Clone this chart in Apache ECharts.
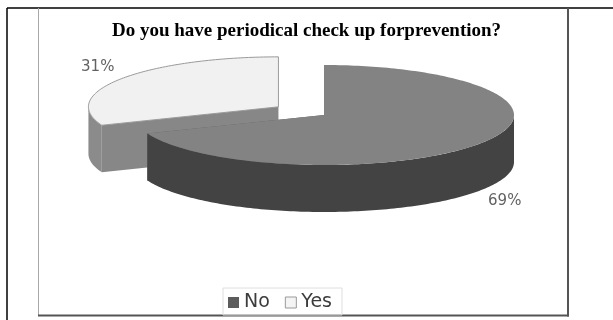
<!DOCTYPE html>
<html>
<head>
<meta charset="utf-8">
<script src="https://cdn.jsdelivr.net/npm/echarts@6/dist/echarts.min.js"></script>
<style>
  html, body { margin: 0; padding: 0; background: #fff; }
  #chart { width: 613px; height: 320px; }
</style>
</head>
<body>
<div id="chart"></div>
<script>
// Survey answers
const categories = ['No', 'Yes'];
const shares = [69, 31];
const titleText = 'Do you have periodical check up forprevention?';

// Look of each slice: lid, outer wall, cut faces
const lidColors = ['#838383', '#f1f1f1'];
const wallColors = ['#434343', '#8b8b8b'];
const cutColors = ['#5f5f5f', '#878787'];
const lidStroke = [null, '#9a9a9a'];
const explode = [0, 0.29];
const legendSwatch = ['#5c5c5c', '#f4f4f4'];

// Projected disc geometry (ellipse radii + thickness)
const CX = 324, CY = 115, RX = 190, RY = 50, DEPTH = 47;
const total = shares.reduce((a, b) => a + b, 0);
const TWO_PI = Math.PI * 2;

function pointAt(cx, cy, th, dy) {
  return [cx + RX * Math.sin(th), cy - RY * Math.cos(th) + (dy || 0)];
}
function arc(cx, cy, a0, a1, dy) {
  const n = Math.max(2, Math.ceil(Math.abs(a1 - a0) / 0.02));
  const pts = [];
  for (let k = 0; k <= n; k++) pts.push(pointAt(cx, cy, a0 + (a1 - a0) * k / n, dy));
  return pts;
}

function renderSlice(params, api) {
  const i = params.seriesIndex;
  const value = api.value(0);
  let before = 0;
  for (let j = 0; j < i; j++) before += shares[j];
  const a0 = before / total * TWO_PI;
  const a1 = a0 + value / total * TWO_PI;
  const mid = (a0 + a1) / 2;
  const cx = CX + Math.sin(mid) * RX * explode[i];
  const cy = CY - Math.cos(mid) * RY * explode[i];
  // slices further back are painted first
  const base = Math.round((1 - Math.cos(mid)) * 20) * 10;
  const children = [];

  // radial cut faces
  [a0, a1].forEach(a => {
    const e = pointAt(cx, cy, a);
    children.push({
      type: 'polygon', z2: base + 1,
      shape: { points: [[cx, cy], e, [e[0], e[1] + DEPTH], [cx, cy + DEPTH]] },
      style: { fill: cutColors[i] }
    });
  });

  // outer wall, front half only
  const w0 = Math.max(a0, Math.PI / 2), w1 = Math.min(a1, Math.PI * 1.5);
  if (w1 > w0) {
    const up = arc(cx, cy, w0, w1, 0);
    const down = arc(cx, cy, w1, w0, DEPTH);
    children.push({
      type: 'polygon', z2: base + 2,
      shape: { points: up.concat(down) },
      style: { fill: wallColors[i] }
    });
  }

  // lid
  children.push({
    type: 'polygon', z2: base + 3,
    shape: { points: [[cx, cy]].concat(arc(cx, cy, a0, a1, 0)) },
    style: { fill: lidColors[i], stroke: lidStroke[i] || null, lineWidth: 1 }
  });

  // percentage label
  const front = Math.cos(mid) < 0;
  const lx = cx + Math.sin(mid) * RX * 1.15;
  const ly = cy - Math.cos(mid) * RY * 1.4 + (front ? DEPTH : 0);
  children.push({
    type: 'text', z2: 900,
    style: {
      x: lx, y: ly,
      text: Math.round(value / total * 100) + '%',
      fill: '#626262',
      font: '15px "DejaVu Sans", sans-serif',
      align: 'center', verticalAlign: 'middle'
    }
  });

  return { type: 'group', children: children };
}

const chart = echarts.init(document.getElementById('chart'), null, { renderer: 'canvas' });

chart.setOption({
  animation: false,
  backgroundColor: '#ffffff',
  title: {
    text: titleText,
    left: 'center',
    top: 17,
    textStyle: {
      fontFamily: '"Liberation Serif", "Times New Roman", serif',
      fontWeight: 'bold',
      fontSize: 19,
      color: '#000'
    }
  },
  legend: {
    left: 223,
    bottom: 5,
    icon: 'rect',
    itemWidth: 11,
    itemHeight: 11,
    itemGap: 15,
    padding: [5, 10, 3, 5],
    borderColor: '#dedede',
    borderWidth: 1,
    textStyle: {
      fontFamily: '"DejaVu Sans", sans-serif',
      fontSize: 19,
      color: '#3c3c3c'
    },
    data: categories.map((c, i) => ({
      name: c,
      itemStyle: i === 1
        ? { color: legendSwatch[i], borderColor: '#999', borderWidth: 1 }
        : { color: legendSwatch[i] }
    }))
  },
  graphic: [
    { type: 'line', shape: { x1: 7, y1: 8, x2: 613, y2: 8 }, style: { stroke: '#000', lineWidth: 1.5 } },
    { type: 'line', shape: { x1: 7, y1: 8, x2: 7, y2: 320 }, style: { stroke: '#000', lineWidth: 1.5 } },
    { type: 'line', shape: { x1: 38.5, y1: 8, x2: 38.5, y2: 316 }, style: { stroke: '#a8a8a8', lineWidth: 1 } },
    { type: 'line', shape: { x1: 38, y1: 315.5, x2: 569, y2: 315.5 }, style: { stroke: '#555', lineWidth: 2 } },
    { type: 'line', shape: { x1: 568, y1: 8, x2: 568, y2: 316.5 }, style: { stroke: '#555', lineWidth: 2 } }
  ],
  series: categories.map((c, i) => ({
    name: c,
    type: 'custom',
    coordinateSystem: 'none',
    renderItem: renderSlice,
    itemStyle: { color: legendSwatch[i] },
    data: [[shares[i]]]
  }))
});
</script>
</body>
</html>
